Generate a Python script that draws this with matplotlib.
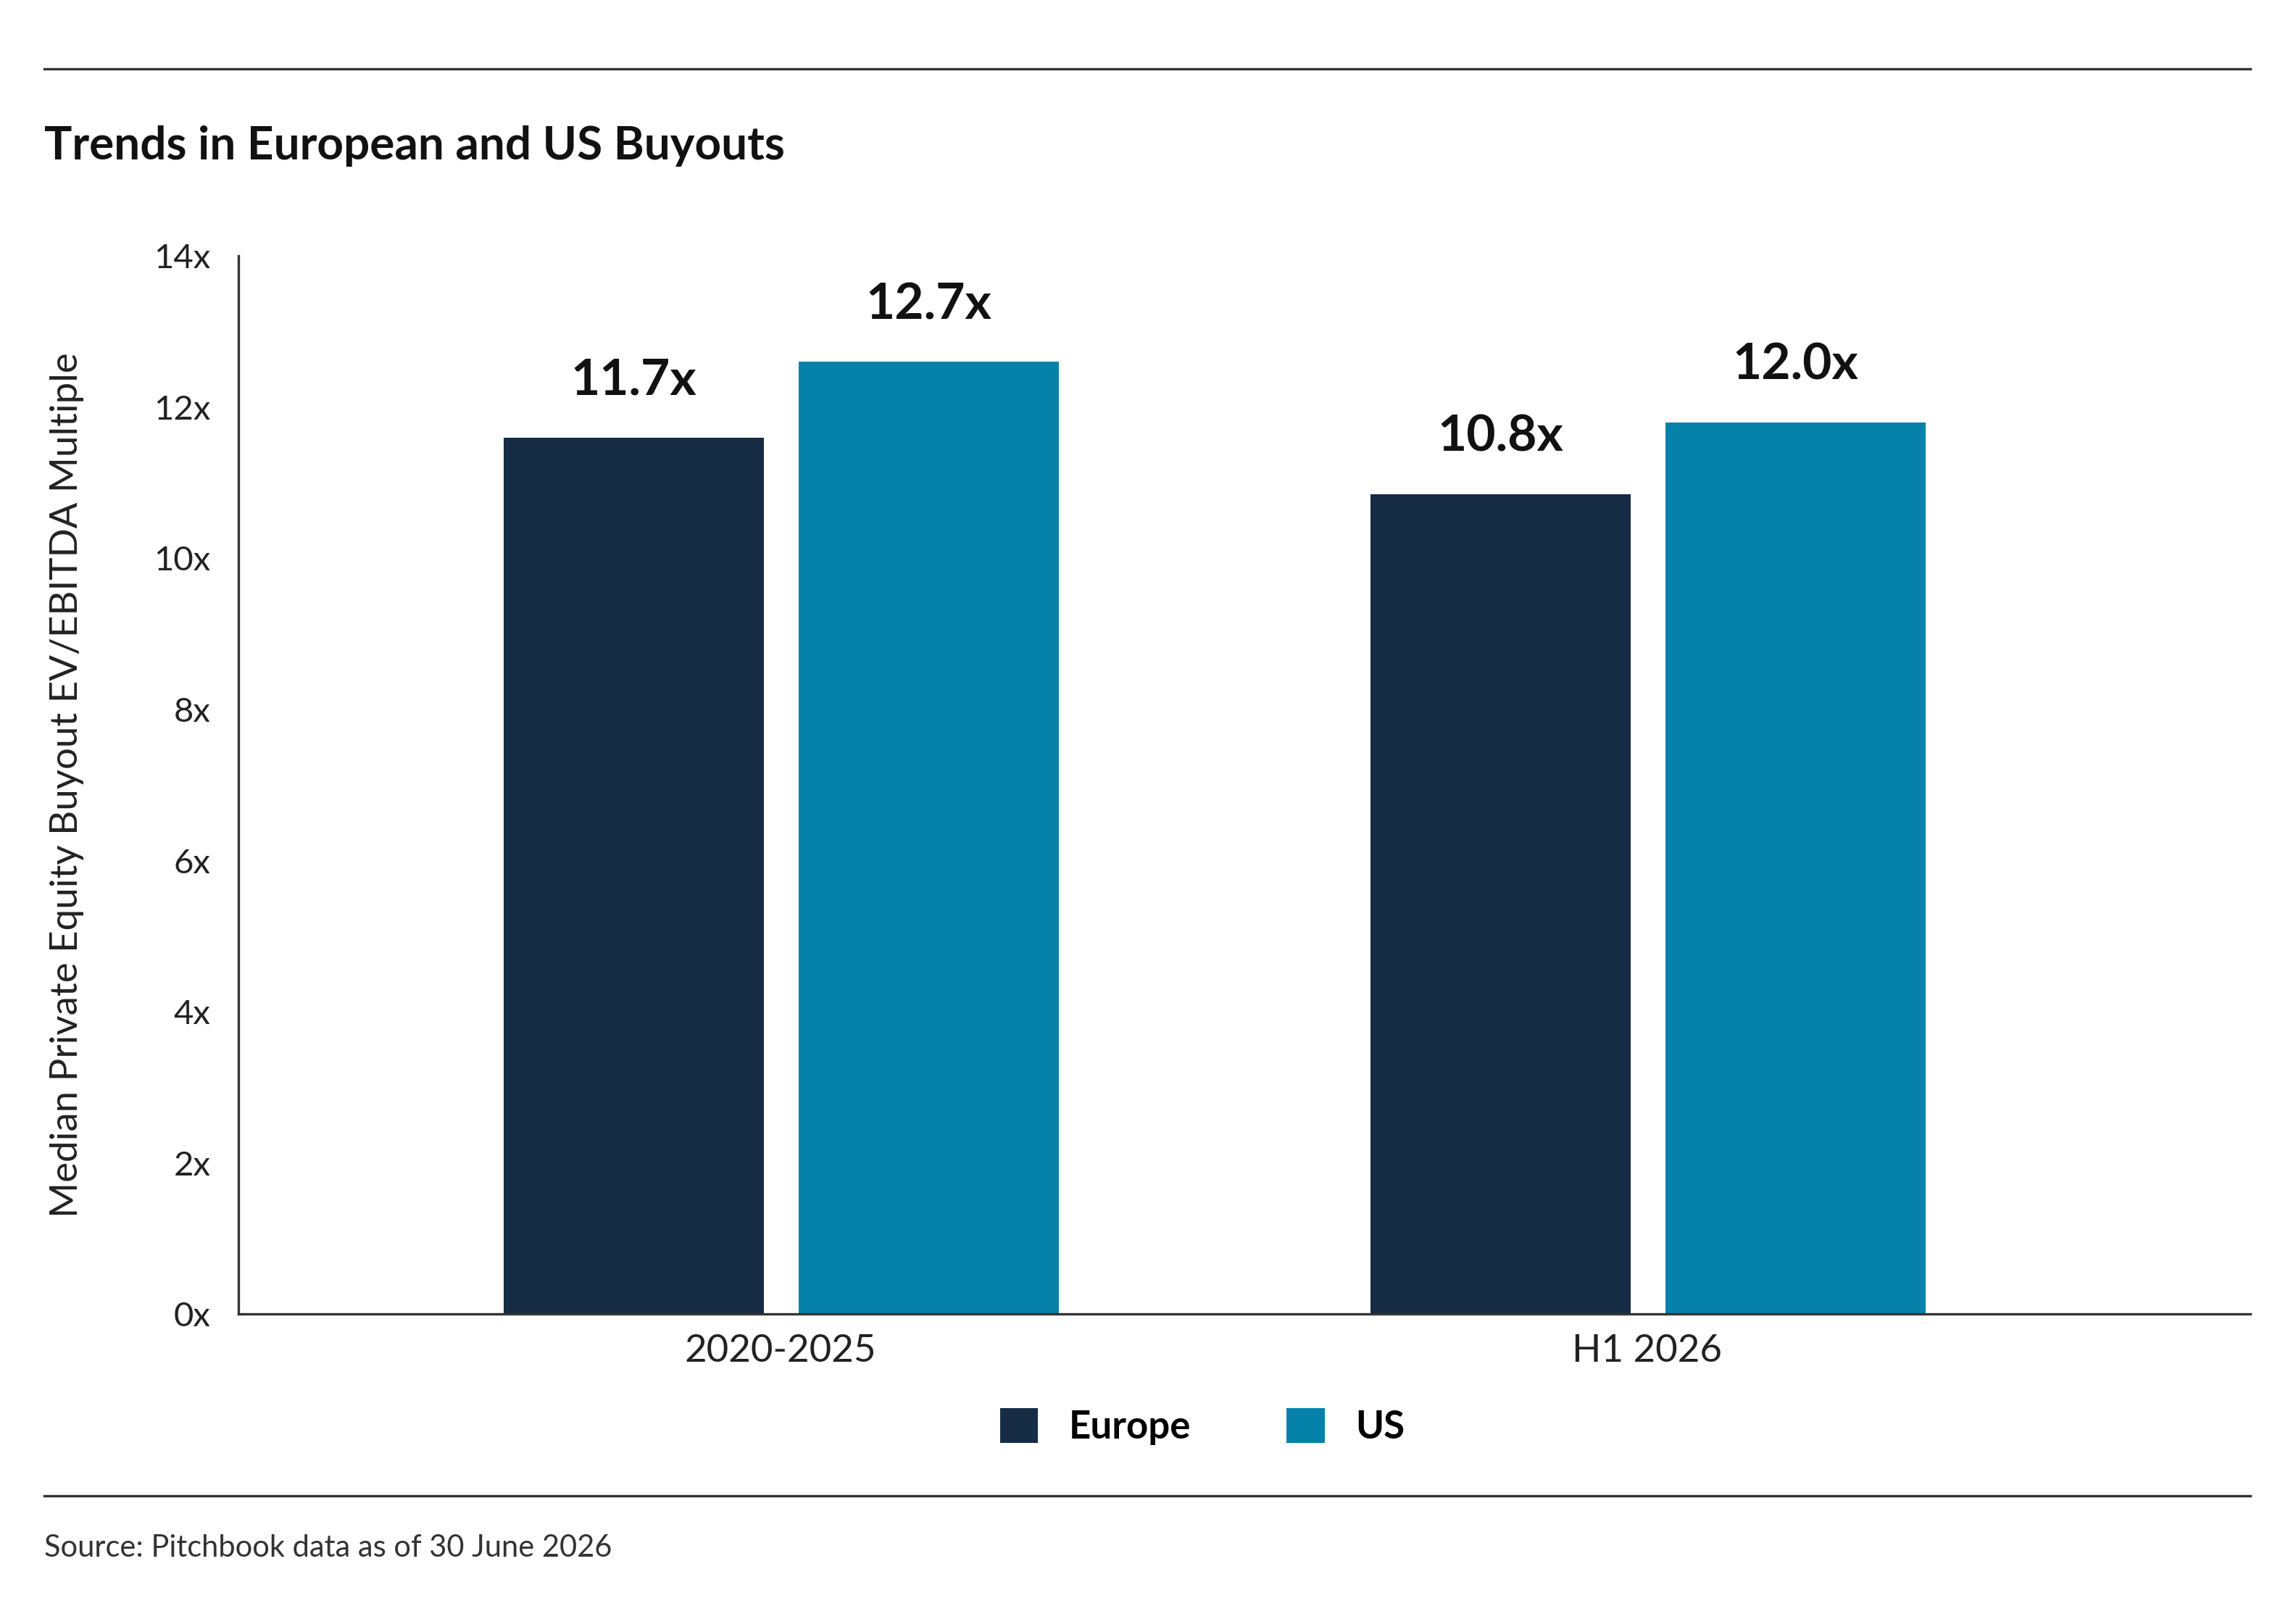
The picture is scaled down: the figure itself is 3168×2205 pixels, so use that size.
import matplotlib
matplotlib.use("Agg")
import matplotlib.pyplot as plt
import numpy as np
from matplotlib.lines import Line2D

plt.rcParams['font.family'] = ['Lato', 'DejaVu Sans']

categories = ["2020-2025", "H1 2026"]
series = ["Europe", "US"]
europe = [11.6, 10.85]
us = [12.6, 11.8]
labels_europe = ["11.7x", "10.8x"]
labels_us = ["12.7x", "12.0x"]
yticks = [0, 2, 4, 6, 8, 10, 12, 14]
colors = ["#162B44", "#0681AA"]

W, H = 1568, 1092
fig = plt.figure(figsize=(15.84, 11.025), dpi=200)
ax = fig.add_axes([163/W, 1-898/H, (1537-163)/W, (898-175)/H])
x = np.arange(len(categories))
w = 0.30
b1 = ax.bar(x-0.169, europe, w, color=colors[0], label=series[0])
b2 = ax.bar(x+0.171, us, w, color=colors[1], label=series[1])
for bars, labs in ((b1, labels_europe), (b2, labels_us)):
    for r, l in zip(bars, labs):
        ax.text(r.get_x()+r.get_width()/2, r.get_height()+0.45, l, ha='center', va='bottom',
                fontsize=25, fontweight='bold', color='#111111')
ax.set_xlim(-0.625, 1.696)
ax.set_ylim(0, 14)
ax.set_yticks(yticks)
ax.set_yticklabels([f"{t}x" for t in yticks], fontsize=17, color='#222222')
ax.set_xticks(x)
ax.set_xticklabels(categories, fontsize=19, color='#222222')
ax.tick_params(length=0, pad=14)
ax.tick_params(axis='x', pad=10)
for s in ['top', 'right']:
    ax.spines[s].set_visible(False)
for s in ['left', 'bottom']:
    ax.spines[s].set_color('#333333'); ax.spines[s].set_linewidth(1.2)
ax.set_ylabel("Median Private Equity Buyout EV/EBITDA Multiple", fontsize=19, color='#222222', labelpad=8)
ax.yaxis.set_label_coords(-0.077, 0.5)

fig.add_artist(Line2D([30/W, 1537/W], [1-47/H]*2, color='#333333', lw=1.2))
fig.add_artist(Line2D([30/W, 1537/W], [1-1022/H]*2, color='#333333', lw=1.2))
fig.text(30/W, 1-100/H, "Trends in European and US Buyouts", fontsize=23, fontweight='bold',
         va='center', ha='left', color='#111111')
fig.text(30/W, 1-1058/H, "Source: Pitchbook data as of 30 June 2026", fontsize=15,
         va='center', ha='left', color='#333333')
leg = fig.legend(handles=[b1, b2], labels=series, loc='center', bbox_to_anchor=(821/W, 1-975/H),
                 ncol=2, frameon=False, fontsize=19, handlelength=1.0, handleheight=1.0,
                 columnspacing=2.5, handletextpad=0.8)
for t in leg.get_texts():
    t.set_fontweight('bold')
fig.savefig("out.png", dpi=200, facecolor='white')
